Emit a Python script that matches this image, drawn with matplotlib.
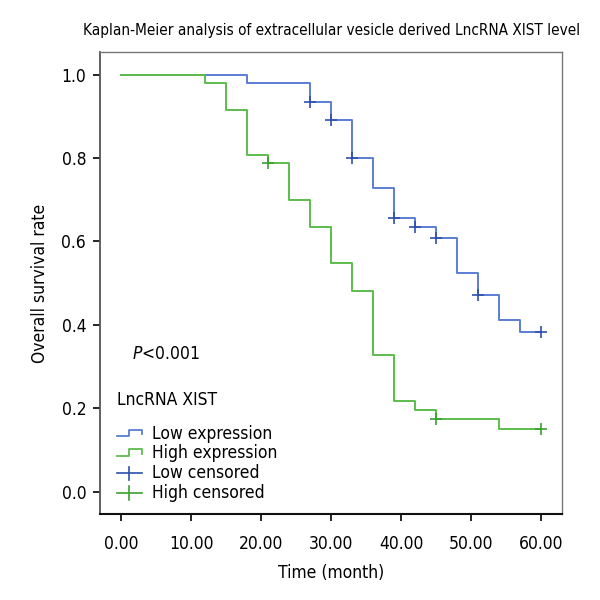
import numpy as np
import matplotlib
matplotlib.use('Agg')
import matplotlib.pyplot as plt
from matplotlib.legend_handler import HandlerBase
from matplotlib.lines import Line2D

plt.rcParams['font.family'] = ['DejaVu Sans']
plt.rcParams['font.stretch'] = 'condensed'

# step curves (time, survival)
low_t = [0, 18, 27, 30, 33, 36, 39, 42, 45, 48, 51, 54, 57, 60]
low_s = [1.0, 0.979, 0.935, 0.891, 0.799, 0.729, 0.657, 0.634, 0.608, 0.525, 0.472, 0.411, 0.383, 0.383]
high_t = [0, 12, 15, 18, 21, 24, 27, 30, 33, 36, 39, 42, 45, 54, 60]
high_s = [1.0, 0.979, 0.914, 0.808, 0.787, 0.699, 0.634, 0.548, 0.481, 0.328, 0.219, 0.196, 0.175, 0.150, 0.150]

# censored points
low_cens_t = [27, 30, 33, 39, 42, 45, 51, 60]
low_cens_s = [0.935, 0.891, 0.799, 0.657, 0.634, 0.608, 0.472, 0.383]
high_cens_t = [21, 45, 60]
high_cens_s = [0.787, 0.175, 0.150]

blue = '#5a7ed4'
blue_dark = '#2f4fae'
green = '#5cbc4c'
green_dark = '#3aa030'


class StepHandler(HandlerBase):
    def create_artists(self, legend, orig, xd, yd, w, h, fontsize, trans):
        xs = [xd, xd + w * 0.45, xd + w * 0.45, xd + w * 0.9, xd + w * 0.9]
        ys = [yd + h * 0.2, yd + h * 0.2, yd + h * 0.75, yd + h * 0.75, yd + h * 0.35]
        ln = Line2D(xs, ys, color=orig.get_color(), lw=1.3, transform=trans)
        return [ln]


class CrossHandler(HandlerBase):
    # wide plus sign like the SPSS legend
    def create_artists(self, legend, orig, xd, yd, w, h, fontsize, trans):
        c = orig.get_color()
        hl = Line2D([xd, xd + w * 0.9], [yd + h * 0.4, yd + h * 0.4], color=c, lw=1.2, transform=trans)
        vl = Line2D([xd + w * 0.45, xd + w * 0.45], [yd - h * 0.15, yd + h * 0.95], color=c, lw=1.2, transform=trans)
        return [hl, vl]


fig = plt.figure(figsize=(6, 6), dpi=100)
ax = fig.add_axes([0.1667, 0.1433, 0.77, 0.77])

l1, = ax.step(low_t, low_s, where='post', color=blue, lw=1.4)
l2, = ax.step(high_t, high_s, where='post', color=green, lw=1.4)
c1, = ax.plot(low_cens_t, low_cens_s, '+', color=blue_dark, ms=8, mew=1.2, ls='none')
c2, = ax.plot(high_cens_t, high_cens_s, '+', color=green_dark, ms=8, mew=1.2, ls='none')

ax.set_xlim(-3, 63)
ax.set_ylim(-0.053, 1.054)
ax.set_xticks(np.arange(0, 61, 10))
ax.set_xticklabels(['%.2f' % v for v in np.arange(0, 61, 10)])
ax.set_yticks(np.arange(0, 1.01, 0.2))
ax.set_yticklabels(['%.1f' % v for v in np.arange(0, 1.01, 0.2)])
ax.tick_params(labelsize=12.5, length=5, width=1.2, direction='out')
ax.tick_params(axis='x', pad=10)
ax.tick_params(axis='y', pad=5)

for s in ['top', 'right']:
    ax.spines[s].set_color('#777777')
    ax.spines[s].set_linewidth(1.0)
ax.spines['left'].set_color('#555555')
ax.spines['left'].set_linewidth(1.3)
ax.spines['bottom'].set_color('#111111')
ax.spines['bottom'].set_linewidth(1.5)

ax.set_xlabel('Time (month)', fontsize=12.5, labelpad=8)
ax.set_ylabel('Overall survival rate', fontsize=12.5, labelpad=9)
fig.text(0.553, 0.95, 'Kaplan-Meier analysis of extracellular vesicle derived LncRNA XIST level',
         ha='center', va='center', fontsize=11)

ax.text(1.6, 0.33, '$P$<0.001', fontsize=12.5, ha='left', va='center')

leg = ax.legend([l1, l2, c1, c2],
                ['Low expression', 'High expression', 'Low censored', 'High censored'],
                handler_map={l1: StepHandler(), l2: StepHandler(), c1: CrossHandler(), c2: CrossHandler()},
                title='LncRNA XIST', loc='lower left', bbox_to_anchor=(0.01, 0.0),
                frameon=False, fontsize=12.5, title_fontsize=12.5,
                handlelength=1.6, handletextpad=0.4, labelspacing=0.1,
                borderaxespad=0.3)
leg._legend_box.align = 'left'
leg._legend_box.sep = 11

fig.savefig('out.png', dpi=100)
